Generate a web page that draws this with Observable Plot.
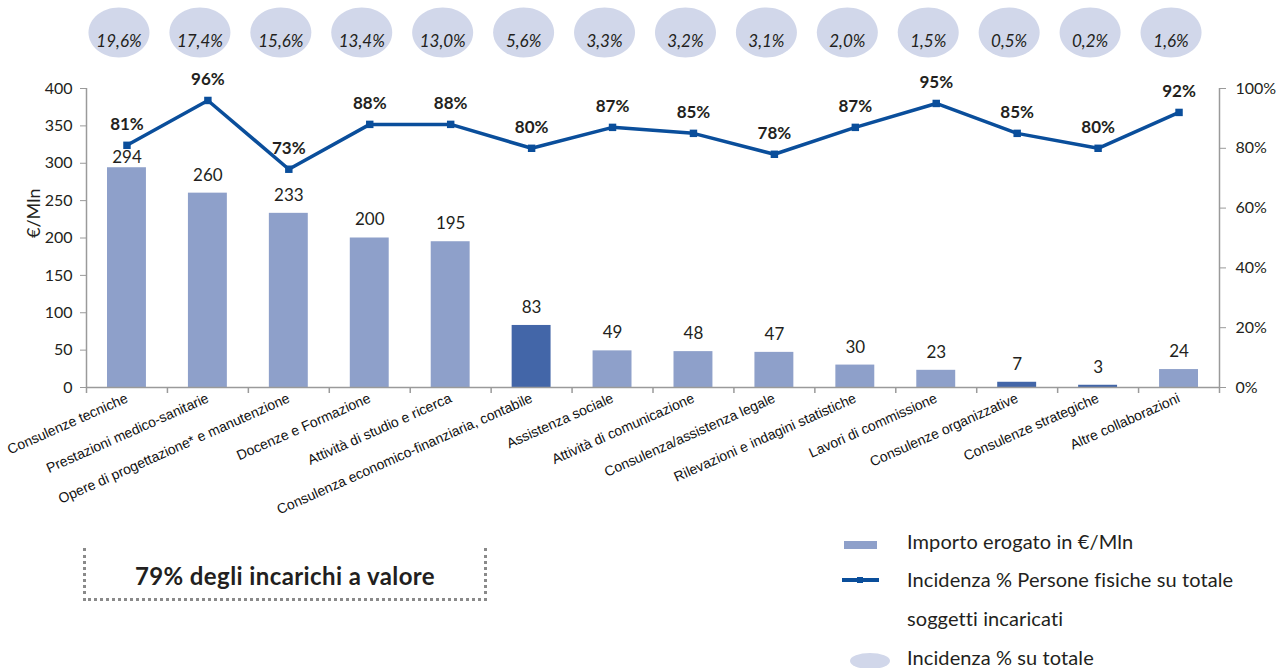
<!DOCTYPE html>
<html>
<head>
<meta charset="utf-8">
<script src="https://cdn.jsdelivr.net/npm/d3@7"></script>
<script src="https://cdn.jsdelivr.net/npm/@observablehq/plot@0.6"></script>
<style>
  html, body { margin: 0; padding: 0; background: #fff; overflow: hidden; }
  #wrap { position: relative; width: 1281px; height: 668px; font-family: Lato, "Open Sans", sans-serif; color: #231f20; }
  #chart { position: absolute; left: 0; top: 0; }
  .box { position: absolute; left: 83px; top: 548px; width: 404px; height: 53px;
         border-left: 3px dotted #8a8a8a; border-right: 3px dotted #8a8a8a; border-bottom: 3px dotted #8a8a8a;
         box-sizing: border-box; font-weight: bold; font-size: 24px; letter-spacing: 0.4px; text-align: center; line-height: 56px; }
  .leg { position: absolute; font-size: 20px; white-space: nowrap; letter-spacing: 0.1px; }
</style>
</head>
<body>
<div id="wrap">
  <div id="chart"></div>
  <div class="box">79% degli incarichi a valore</div>
  <svg style="position:absolute;left:0;top:0" width="1281" height="668">
    <rect x="844" y="541" width="33" height="8" fill="#8EA0CA"></rect>
    <line x1="842" y1="580" x2="879" y2="580" stroke="#0A4E9B" stroke-width="4"></line>
    <rect x="857" y="577" width="6" height="6" fill="#0A4E9B"></rect>
    <ellipse cx="870" cy="661" rx="20" ry="8" fill="#D1D7EA"></ellipse>
  </svg>
  <div class="leg" style="left:907px;top:529px">Importo erogato in €/Mln</div>
  <div class="leg" style="left:907px;top:567px">Incidenza % Persone fisiche su totale</div>
  <div class="leg" style="left:907px;top:606px">soggetti incaricati</div>
  <div class="leg" style="left:907px;top:645px">Incidenza % su totale</div>
</div>
<script>
const categories = [
  "Consulenze tecniche",
  "Prestazioni medico-sanitarie",
  "Opere di progettazione* e manutenzione",
  "Docenze e Formazione",
  "Attività di studio e ricerca",
  "Consulenza economico-finanziaria, contabile",
  "Assistenza sociale",
  "Attività di comunicazione",
  "Consulenza/assistenza legale",
  "Rilevazioni e indagini statistiche",
  "Lavori di commissione",
  "Consulenze organizzative",
  "Consulenze strategiche",
  "Altre collaborazioni"
];
const importo = [294, 260, 233, 200, 195, 83, 49, 48, 47, 30, 23, 7, 3, 24];
const personeFisichePct = [81, 96, 73, 88, 88, 80, 87, 85, 78, 87, 95, 85, 80, 92];
const incidenzaTotale = ["19,6%", "17,4%", "15,6%", "13,4%", "13,0%", "5,6%", "3,3%", "3,2%", "3,1%", "2,0%", "1,5%", "0,5%", "0,2%", "1,6%"];
const highlighted = [false, false, false, false, false, true, false, false, false, false, false, true, true, false];
const leftTicks = [0, 50, 100, 150, 200, 250, 300, 350, 400];
const rightTicksPct = [0, 20, 40, 60, 80, 100];

const data = categories.map((c, i) => ({
  i, c, v: importo[i], p: personeFisichePct[i], inc: incidenzaTotale[i], hi: highlighted[i]
}));

const PCT = 4; // 100% maps to 400 on left scale
const lightBar = "#8EA0CA", darkBar = "#4366A8", lineCol = "#0A4E9B", ellCol = "#D1D7EA", axisCol = "#9a9a9a";

const ellipse = {
  draw(ctx, size) {
    const r = Math.sqrt(size / Math.PI);
    const rx = r * 1.22, ry = r, k = 0.5523;
    ctx.moveTo(rx, 0);
    ctx.bezierCurveTo(rx, ry * k, rx * k, ry, 0, ry);
    ctx.bezierCurveTo(-rx * k, ry, -rx, ry * k, -rx, 0);
    ctx.bezierCurveTo(-rx, -ry * k, -rx * k, -ry, 0, -ry);
    ctx.bezierCurveTo(rx * k, -ry, rx, -ry * k, rx, 0);
    ctx.closePath();
  }
};

const chart = Plot.plot({
  width: 1281,
  height: 530,
  marginTop: 88,
  marginBottom: 143,
  marginLeft: 86,
  marginRight: 62,
  style: { fontFamily: "Lato, 'Open Sans', sans-serif", fontSize: "15px", color: "#231f20", background: "transparent", overflow: "visible" },
  x: { type: "linear", domain: [0, categories.length], axis: null },
  y: { domain: [0, 400], axis: null },
  marks: [
    Plot.rectY(data, {
      x1: d => d.i, x2: d => d.i + 1, y: "v",
      insetLeft: 21, insetRight: 21,
      fill: d => d.hi ? darkBar : lightBar
    }),
    Plot.ruleY([0], { stroke: axisCol, strokeWidth: 1.5 }),
    Plot.ruleX([0, categories.length], { stroke: axisCol, strokeWidth: 1.5 }),
    Plot.axisX({
      ticks: d3.range(categories.length + 1), tickFormat: () => "",
      tickSize: 6, stroke: axisCol, strokeWidth: 1.5
    }),
    Plot.axisX({
      ticks: d3.range(categories.length).map(i => i + 0.5),
      tickFormat: t => categories[Math.floor(t)],
      tickSize: 0, tickRotate: -24, tickPadding: 10,
      fontFamily: "'Liberation Sans', Arial, sans-serif", fontSize: 14, fill: "#111"
    }),
    Plot.axisY({
      anchor: "left", ticks: leftTicks, tickSize: 6, stroke: axisCol, tickPadding: 8,
      fontSize: 16, label: null
    }),
    Plot.text(["€/Mln"], {
      frameAnchor: "left", dx: -52, rotate: -90, fontSize: 18, fill: "#231f20"
    }),
    Plot.axisY({
      anchor: "right", ticks: rightTicksPct.map(p => p * PCT), tickSize: 6, stroke: axisCol, tickPadding: 10,
      tickFormat: t => (t / PCT) + "%", fontSize: 16, label: null
    }),
    // value labels: the first one sits closer to its bar to clear the line marker
    Plot.text(data, {
      filter: d => d.i !== 0,
      x: d => d.i + 0.5, y: "v", text: d => String(d.v), dy: -18, fontSize: 17, fill: "#231f20"
    }),
    Plot.text(data, {
      filter: d => d.i === 0,
      x: d => d.i + 0.5, y: "v", text: d => String(d.v), dy: -10, fontSize: 17, fill: "#231f20"
    }),
    Plot.line(data, {
      x: d => d.i + 0.5, y: d => d.p * PCT, stroke: lineCol, strokeWidth: 3.5, strokeLinejoin: "miter"
    }),
    Plot.dot(data, {
      x: d => d.i + 0.5, y: d => d.p * PCT, symbol: "square", r: 4.2, fill: lineCol
    }),
    Plot.text(data, {
      x: d => d.i + 0.5, y: d => d.p * PCT, text: d => d.p + "%", dy: -21,
      fontSize: 17, fontWeight: "bold", fill: "#231f20"
    }),
    Plot.dot(data, {
      x: d => d.i + 0.5, frameAnchor: "top", dy: -56, dx: -8, r: 25,
      symbol: ellipse, fill: ellCol, stroke: "none"
    }),
    Plot.text(data, {
      x: d => d.i + 0.5, frameAnchor: "top", dy: -54, dx: -8, text: "inc",
      fontSize: 17, fontStyle: "italic", fill: "#231f20", letterSpacing: 0.6
    })
  ]
});
document.getElementById("chart").appendChild(chart);
</script>
</body>
</html>
